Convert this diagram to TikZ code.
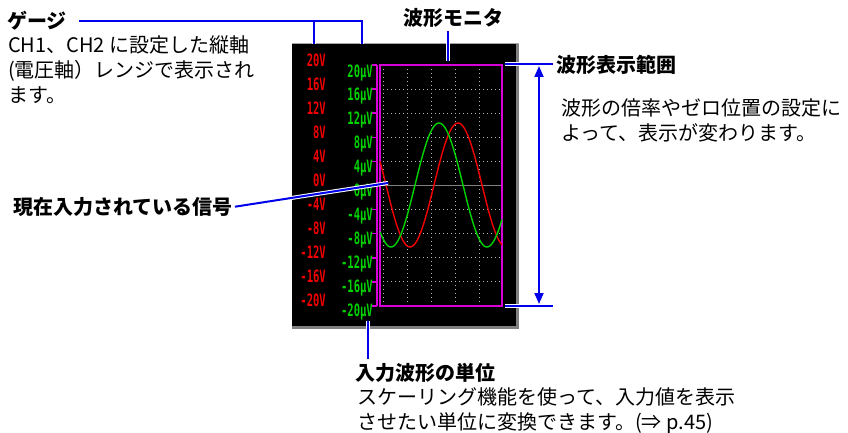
\documentclass[tikz,border=0pt]{standalone}
\usepackage{fontspec}
\setmainfont{Noto Sans CJK JP}
\newfontfamily\lcdfont[FakeStretch=0.62]{DejaVu Sans Mono}
\usetikzlibrary{arrows.meta,positioning,calc}
\definecolor{leadblue}{RGB}{0,0,235}
\definecolor{lcdred}{RGB}{240,0,0}
\definecolor{lcdgreen}{RGB}{0,210,0}
\definecolor{framemag}{RGB}{215,0,215}
\definecolor{gridgray}{RGB}{185,185,185}

\begin{document}
\begin{tikzpicture}[
  x=1pt, y=-1pt,
  heading/.style={font=\bfseries\fontsize{20}{25}\selectfont, inner sep=0pt},
  bodytext/.style={font=\fontsize{20}{25}\selectfont, align=left, inner sep=0pt},
  volt/.style={font=\lcdfont\bfseries\fontsize{17}{17}\selectfont, inner sep=0pt, anchor=east, text=lcdred},
  unitlab/.style={volt, text=lcdgreen},
  lead/.style={leadblue, line width=2pt, preaction={draw=white, line width=4pt}},
  arr/.style={{Triangle[length=11pt,width=9pt]}-{Triangle[length=11pt,width=9pt]}, leadblue, line width=1.8pt},
  dotgrid/.style={gridgray, line width=1pt, dash pattern=on 1pt off 3pt},
  wave/.style={line width=1.4pt, smooth},
  magline/.style={framemag, line width=1.5pt},
]
\path[use as bounding box, fill=white] (0,0) rectangle (848,433);

% monitor screen
\fill[black] (292,43.5) rectangle (519,329);
\draw[gray, line width=3pt] (292,327.5) -- (517.5,327.5) -- (517.5,43.5);
\draw[gray!70, line width=1pt] (292,44) -- (519,44);
\foreach \gx in {383,407,431,455,479}
  \draw[dotgrid] (\gx,65) -- (\gx,306);
\foreach \k in {1,2,3,4,6,7,8,9}
  \draw[dotgrid] (383,{65+24.1*\k}) -- (502,{65+24.1*\k});
\draw[gray, line width=1.5pt] (380,185.5) -- (502,185.5);
\draw[magline] (380,65) rectangle (502,306);
\draw[magline] (377,65) -- (377,306);
\foreach \k in {0,...,10}
  \draw[magline] (372,{65+24.1*\k}) -- (377,{65+24.1*\k});

% waveforms
\draw[lcdred, wave] plot[domain=380:502, samples=100] (\x, {185+62*cos(3.75*(\x-410))});
\draw[lcdgreen, wave] plot[domain=380:502, samples=100] (\x, {185+62*cos(3.75*(\x-391))});

% gauge labels
\foreach \v [count=\i from 0] in {20,16,12,8,4,0,-4,-8,-12,-16,-20} {
  \node[volt] (v\i) at (326,{60+24*\i}) {\v V};
  \node[unitlab] (u\i) at (373,{72.5+23.9*\i}) {\v µV};
}

% callouts
\node[heading, anchor=west] (gauge) at (7,21) {ゲージ};
\node[bodytext, below right=5pt and 1pt of gauge.south west] (gaugetxt) {CH1、CH2 に設定した縦軸\\(電圧軸）レンジで表示され\\ます。};
\node[heading] (monitor) at (453,18) {波形モニタ};
\node[heading, anchor=west] (range) at (556,64.5) {波形表示範囲};
\node[bodytext, below right=24pt and 5pt of range.south west] (rangetxt) {波形の倍率やゼロ位置の設定に\\よって、表示が変わります。};
\node[heading, anchor=east] (signal) at (233,207) {現在入力されている信号};
\node[heading, anchor=west] (unit) at (355,373) {入力波形の単位};
\node[bodytext, below right=5pt and 2pt of unit.south west] (unittxt) {スケーリング機能を使って、入力値を表示\\させたい単位に変換できます。(⇒ p.45)};

\coordinate (gaugeL) at (314,44);
\coordinate (gaugeR) at (362,44);
\coordinate (monitorP) at (448,61);
\coordinate (rangeT) at (505,64.5);
\coordinate (rangeB) at (505,306);
\coordinate (arrT) at (539,66);
\coordinate (arrB) at (539,304);
\coordinate (signalP) at (388,183);
\coordinate (unitP) at (368,321);

\draw[lead] ([xshift=12pt]gauge.east) -| (gaugeR) (gaugeL |- gauge.east) -- (gaugeL);
\draw[lead, shorten <=3pt] (monitorP |- monitor.south) -- (monitorP);
\draw[lead, shorten >=3pt] (rangeT) -- (range.west);
\draw[lead, shorten >=3pt] (rangeB) -- (rangeB -| range.west);
\draw[arr] (arrT) -- (arrB);
\draw[lead, shorten <=2pt] (signal.east) -- (signalP);
\draw[lead, shorten >=4pt] (unitP) -- (unitP |- unit.north);
\end{tikzpicture}
\end{document}
